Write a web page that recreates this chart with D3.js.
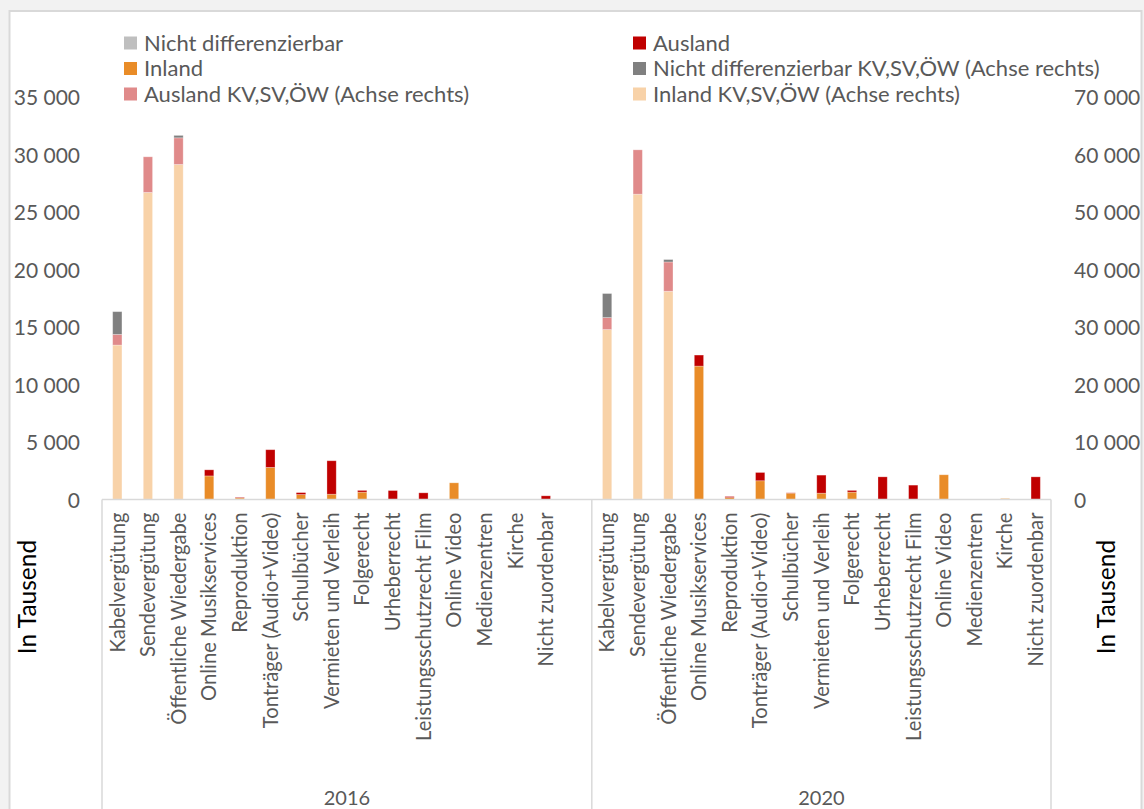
<!DOCTYPE html>
<html>
<head>
<meta charset="utf-8">
<script src="https://cdn.jsdelivr.net/npm/d3@7"></script>
<style>
  html, body { margin: 0; padding: 0; background: #f2f2f2; }
  svg { display: block; }
  text { font-family: Lato, "Open Sans", sans-serif; }
</style>
</head>
<body>
<svg id="chart" width="1144" height="809"></svg>
<script>
// ---------- data (values in thousand) ----------
const categories = [
  "Kabelvergütung", "Sendevergütung", "Öffentliche Wiedergabe", "Online Musikservices",
  "Reproduktion", "Tonträger (Audio+Video)", "Schulbücher", "Vermieten und Verleih",
  "Folgerecht", "Urheberrecht", "Leistungsschutzrecht Film", "Online Video",
  "Medienzentren", "Kirche", "Nicht zuordenbar"
];
const years = ["2016", "2020"];

// left axis series
const inland2016          = [0, 0, 0, 2050, 130, 2790, 430, 460, 640, 0, 0, 1450, 0, 0, 0];
const ausland2016         = [0, 0, 0, 530, 50, 1540, 170, 2910, 150, 780, 580, 0, 0, 0, 320];
const nichtDiff2016       = [0, 0, 0, 0, 0, 0, 0, 0, 0, 0, 0, 0, 0, 0, 0];
const inland2020          = [0, 0, 0, 11600, 170, 1630, 550, 550, 640, 0, 0, 2150, 0, 0, 0];
const ausland2020         = [0, 0, 0, 960, 90, 720, 30, 1570, 150, 1970, 1250, 0, 0, 0, 1970];
const nichtDiff2020       = [0, 0, 0, 0, 0, 0, 0, 0, 0, 0, 0, 0, 0, 0, 0];

// right axis series (KV, SV, ÖW)
const inlandKV2016        = [26860, 53400, 58270, 0, 0, 0, 0, 0, 0, 0, 0, 0, 0, 0, 0];
const auslandKV2016       = [1860, 6200, 4630, 0, 0, 0, 0, 0, 0, 0, 0, 0, 0, 0, 0];
const nichtDiffKV2016     = [3950, 0, 420, 0, 0, 0, 0, 0, 0, 0, 0, 0, 0, 0, 0];
const inlandKV2020        = [29550, 53100, 36210, 0, 0, 0, 0, 0, 0, 0, 0, 0, 0, 250, 0];
const auslandKV2020       = [2090, 7710, 5100, 0, 0, 0, 0, 0, 0, 0, 0, 0, 0, 0, 0];
const nichtDiffKV2020     = [4180, 0, 420, 0, 0, 0, 0, 0, 0, 0, 0, 0, 0, 0, 0];

const leftTicks  = [0, 5000, 10000, 15000, 20000, 25000, 30000, 35000];
const rightTicks = [0, 10000, 20000, 30000, 40000, 50000, 60000, 70000];

const legendItems = [
  { name: "Nicht differenzierbar", color: "#bfbfbf" },
  { name: "Ausland", color: "#c00000" },
  { name: "Inland", color: "#e98c28" },
  { name: "Nicht differenzierbar KV,SV,ÖW (Achse rechts)", color: "#808080" },
  { name: "Ausland KV,SV,ÖW (Achse rechts)", color: "#e08a8a" },
  { name: "Inland KV,SV,ÖW (Achse rechts)", color: "#f8d2a8" }
];

// ---------- build rows ----------
const leftData = { "2016": [inland2016, ausland2016, nichtDiff2016], "2020": [inland2020, ausland2020, nichtDiff2020] };
const rightData = { "2016": [inlandKV2016, auslandKV2016, nichtDiffKV2016], "2020": [inlandKV2020, auslandKV2020, nichtDiffKV2020] };
const leftKeys = ["Inland", "Ausland", "Nicht differenzierbar"];
const rightKeys = ["Inland KV,SV,ÖW (Achse rechts)", "Ausland KV,SV,ÖW (Achse rechts)", "Nicht differenzierbar KV,SV,ÖW (Achse rechts)"];
const colorOf = Object.fromEntries(legendItems.map(d => [d.name, d.color]));

const slots = [];
const leftRows = [], rightRows = [];
years.forEach((y, yi) => {
  categories.forEach((c, ci) => {
    const key = y + "|" + c;
    slots.push({ key, label: c });
    const lr = { key }; leftKeys.forEach((k, i) => lr[k] = leftData[y][i][ci]); leftRows.push(lr);
    const rr = { key }; rightKeys.forEach((k, i) => rr[k] = rightData[y][i][ci]); rightRows.push(rr);
  });
  if (yi === 0) slots.push({ key: y + "|_", label: "" });
});

// ---------- layout ----------
const svg = d3.select("#chart");
const plot = { left: 102, right: 1051, top: 97, bottom: 499.5 };

svg.append("rect").attr("x", 9.5).attr("y", 11).attr("width", 1132).attr("height", 820)
  .attr("fill", "#ffffff").attr("stroke", "#d9d9d9").attr("stroke-width", 2);

const pad = 0.697;
const x = d3.scaleBand().domain(slots.map(s => s.key)).range([plot.left, plot.right])
  .paddingInner(pad).paddingOuter(pad / 2);
const yL = d3.scaleLinear().domain([0, 35000]).range([plot.bottom, plot.top]);
const yR = d3.scaleLinear().domain([0, 70000]).range([plot.bottom, plot.top]);

const loc = d3.formatLocale({ decimal: ",", thousands: " ", grouping: [3], currency: ["", " €"] });
const fmt = loc.format(",d");

// ---------- bars ----------
function drawStack(rows, keys, scale) {
  const stacked = d3.stack().keys(keys)(rows);
  svg.append("g").selectAll("g").data(stacked).join("g")
    .attr("fill", d => colorOf[d.key])
    .selectAll("rect").data(d => d.filter(p => p[1] - p[0] > 0)).join("rect")
    .attr("x", d => x(d.data.key))
    .attr("width", x.bandwidth())
    .attr("y", d => scale(d[1]))
    .attr("height", d => scale(d[0]) - scale(d[1]))
    .attr("stroke", "#ffffff").attr("stroke-opacity", 0.35).attr("stroke-width", 0.8);
}
drawStack(rightRows, rightKeys, yR);
drawStack(leftRows, leftKeys, yL);

// ---------- axes ----------
const tickColor = "#595959";
const axL = svg.append("g").attr("transform", `translate(${plot.left},0)`)
  .call(d3.axisLeft(yL).tickValues(leftTicks).tickFormat(fmt).tickSize(0).tickPadding(22));
const axR = svg.append("g").attr("transform", `translate(${plot.right},0)`)
  .call(d3.axisRight(yR).tickValues(rightTicks).tickFormat(fmt).tickSize(0).tickPadding(23));
[axL, axR].forEach(a => {
  a.select(".domain").remove();
  a.selectAll("text").attr("fill", tickColor).style("font-size", "21px").attr("dy", "0.36em");
});

// category axis
const labelOf = Object.fromEntries(slots.map(s => [s.key, s.label]));
const axB = svg.append("g").attr("transform", `translate(0,${plot.bottom})`)
  .call(d3.axisBottom(x).tickSize(0).tickFormat(k => labelOf[k]));
axB.select(".domain").remove();
axB.selectAll("text")
  .attr("transform", "rotate(-90)")
  .attr("x", -13).attr("y", 0).attr("dy", "0.36em")
  .attr("text-anchor", "end")
  .attr("fill", tickColor).style("font-size", "20.2px");

// category frame lines
const gridColor = "#d9d9d9";
svg.append("line").attr("x1", plot.left).attr("x2", plot.right).attr("y1", plot.bottom).attr("y2", plot.bottom)
  .attr("stroke", gridColor).attr("stroke-width", 1.5);
const sepXs = [plot.left, x(years[0] + "|_") - x.step() * pad / 2 + x.step(), plot.right];
svg.append("g").selectAll("line").data(sepXs).join("line")
  .attr("x1", d => d).attr("x2", d => d).attr("y1", plot.bottom).attr("y2", 812)
  .attr("stroke", gridColor).attr("stroke-width", 1.5);

// year labels
const yearSpans = [[sepXs[0], sepXs[1]], [sepXs[1], sepXs[2]]];
svg.append("g").selectAll("text").data(years).join("text")
  .attr("x", (d, i) => (yearSpans[i][0] + yearSpans[i][1]) / 2)
  .attr("y", 805)
  .attr("text-anchor", "middle").attr("fill", tickColor).style("font-size", "20px")
  .text(d => d);

// axis titles
[[27, "left"], [1106, "right"]].forEach(([cx]) => {
  svg.append("text").attr("transform", `translate(${cx},597) rotate(-90)`)
    .attr("text-anchor", "middle").attr("dy", "0.36em").attr("fill", "#000000")
    .style("font-size", "24.5px").text("In Tausend");
});

// legend
const legCols = [124, 633];
const legRows = [43, 68.5, 94];
const lg = svg.append("g").selectAll("g").data(legendItems).join("g")
  .attr("transform", (d, i) => `translate(${legCols[i % 2]},${legRows[Math.floor(i / 2)]})`);
lg.append("rect").attr("x", 0).attr("y", -6.5).attr("width", 13).attr("height", 13).attr("fill", d => d.color);
lg.append("text").attr("x", 20).attr("y", 0).attr("dy", "0.36em").attr("fill", tickColor)
  .style("font-size", "22px").text(d => d.name);
</script>
</body>
</html>
